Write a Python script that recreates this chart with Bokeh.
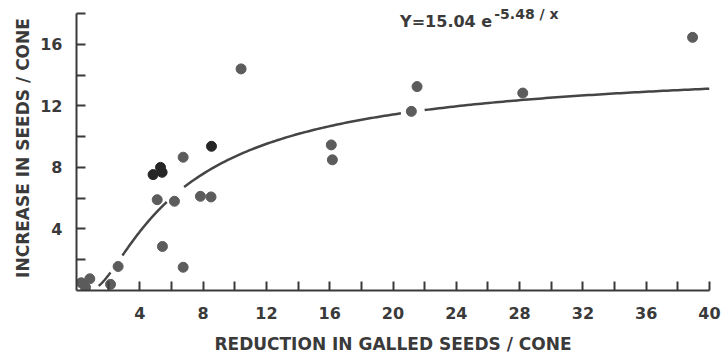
from bokeh.plotting import figure
from bokeh.models import Range1d, FixedTicker, Label
from bokeh.embed import file_html
from bokeh.resources import INLINE
import math

# data
gray_x = [10.4, 6.74, 5.1, 6.19, 7.83, 8.5, 5.43, 6.74, 2.63, 2.15, 0.84, 0.3, 0.57, 16.1, 16.17, 21.52, 21.16, 28.2, 38.93]
gray_y = [14.4, 8.66, 5.9, 5.8, 6.12, 6.08, 2.86, 1.51, 1.56, 0.4, 0.76, 0.5, 0.2, 9.46, 8.49, 13.25, 11.64, 12.83, 16.45]
dark_x = [8.53, 4.84, 5.31, 5.41]
dark_y = [9.37, 7.53, 8.0, 7.68]

# fitted model Y = A * exp(-B / x), drawn in pieces (gaps as in the figure)
fit_A = 15.04
fit_B = 5.48
fit_pieces = [(1.4, 2.15), (2.9, 5.7), (6.8, 20.5), (22.0, 40.0)]

x_major = [4, 8, 12, 16, 20, 24, 28, 32, 36, 40]
x_minor = [2, 6, 10, 14, 18, 22, 26, 30, 34, 38]
y_major = [4, 8, 12, 16]
y_minor = [2, 6, 10, 14, 18]

ink = "#3a3a3a"
font = "DejaVu Sans"

p = figure(width=724, height=356, x_range=Range1d(0, 40), y_range=Range1d(0, 18.52),
           output_backend="svg", toolbar_location=None,
           min_border_left=76, min_border_right=15, min_border_top=5, min_border_bottom=66)
p.outline_line_color = None
p.xgrid.visible = False
p.ygrid.visible = False
p.background_fill_color = "white"
p.border_fill_color = "white"

for ax, maj, mnr in ((p.xaxis[0], x_major, x_minor), (p.yaxis[0], y_major, y_minor)):
    ax.ticker = FixedTicker(ticks=maj, minor_ticks=mnr)
    ax.axis_line_color = ink
    ax.axis_line_width = 2
    ax.major_tick_line_color = ink
    ax.minor_tick_line_color = ink
    ax.major_tick_line_width = 2
    ax.minor_tick_line_width = 2
    ax.major_tick_in = 9
    ax.major_tick_out = 0
    ax.minor_tick_in = 9
    ax.minor_tick_out = 0
    ax.major_label_text_font = font
    ax.major_label_text_font_size = "16px"
    ax.major_label_text_font_style = "bold"
    ax.major_label_text_color = ink
    ax.axis_label_text_font = font
    ax.axis_label_text_font_size = "17px"
    ax.axis_label_text_font_style = "bold"
    ax.axis_label_text_color = ink

p.yaxis[0].bounds = (0, 18)
p.xaxis[0].axis_label = "REDUCTION IN GALLED SEEDS / CONE"
p.yaxis[0].axis_label = "INCREASE IN SEEDS / CONE"
p.xaxis[0].major_label_standoff = 16
p.xaxis[0].axis_label_standoff = 12
p.yaxis[0].major_label_standoff = 14
p.yaxis[0].axis_label_standoff = 4

xs_list, ys_list = [], []
for a, b in fit_pieces:
    n = 80
    xs = [a + (b - a) * i / n for i in range(n + 1)]
    xs_list.append(xs)
    ys_list.append([fit_A * math.exp(-fit_B / x) for x in xs])
p.multi_line(xs_list, ys_list, line_color="#454545", line_width=2.5)

p.scatter(gray_x, gray_y, size=10, fill_color="#5c5c5c", line_color="#5c5c5c")
p.scatter(dark_x, dark_y, size=10, fill_color="#262626", line_color="#262626")

p.add_layout(Label(x=20.45, y=17.45, text="Y=15.04 e", text_font=font, text_font_size="16px",
                   text_font_style="bold", text_color=ink, text_baseline="alphabetic"))
p.add_layout(Label(x=26.4, y=18.0, text="-5.48 / x", text_font=font, text_font_size="14px",
                   text_font_style="bold", text_color=ink, text_baseline="alphabetic"))

open("out.html", "w").write(file_html(p, INLINE))
